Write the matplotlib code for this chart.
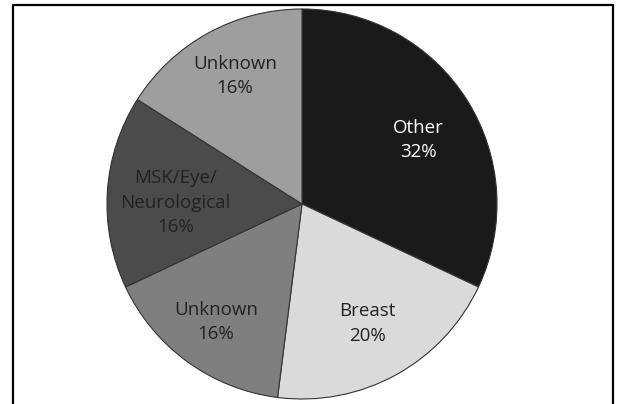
import numpy as np
import matplotlib
matplotlib.use("Agg")
import matplotlib.pyplot as plt
from matplotlib.lines import Line2D

categories = ["Other", "Breast", "Unknown", "MSK/Eye/\nNeurological", "Unknown"]
values = [32, 20, 16, 16, 16]
colors = ["#1a1a1a", "#dadada", "#7f7f7f", "#4b4b4b", "#9e9e9e"]
text_colors = ["white", "#222222", "#222222", "#222222", "#222222"]
label_dist = [0.68, 0.70, 0.75, 0.65, 0.74]
label_rot = [-3.7, 0.0, 0.0, 3.0, -1.2]  # degrees nudge of label angle

plt.rcParams['font.family'] = ['Open Sans', 'DejaVu Sans']

W, H = 617, 404
fig = plt.figure(figsize=(W / 100, H / 100), dpi=100)
cx, cy, r = 302, 204, 195
ax = fig.add_axes([(cx - r) / W, (H - cy - r) / H, 2 * r / W, 2 * r / H])

labels = [f"{c}\n{v}%" for c, v in zip(categories, values)]
wedges, texts = ax.pie(values, colors=colors, startangle=90, counterclock=False,
                       labels=labels, labeldistance=1.0,
                       wedgeprops=dict(edgecolor="#333333", linewidth=0.8),
                       textprops=dict(fontsize=13.5, ha="center", va="center",
                                      linespacing=1.45))
for t, c, d, rot in zip(texts, text_colors, label_dist, label_rot):
    t.set_color(c)
    t.set_horizontalalignment("center")
    t.set_verticalalignment("center")
    x, y = t.get_position()
    ang = np.arctan2(y, x) + np.deg2rad(rot)
    t.set_position((d * np.cos(ang), d * np.sin(ang)))
ax.set_xlim(-1, 1)
ax.set_ylim(-1, 1)
ax.set_aspect("equal")
ax.axis("off")

# frame (open at bottom)
x0, x1, ytop = 12.5 / W, 612.5 / W, 1 - 5 / H
fig.add_artist(Line2D([x0, x0, x1, x1], [0, ytop, ytop, 0], color="black",
                      linewidth=1.6, transform=fig.transFigure))

fig.savefig("out.png", dpi=100)
